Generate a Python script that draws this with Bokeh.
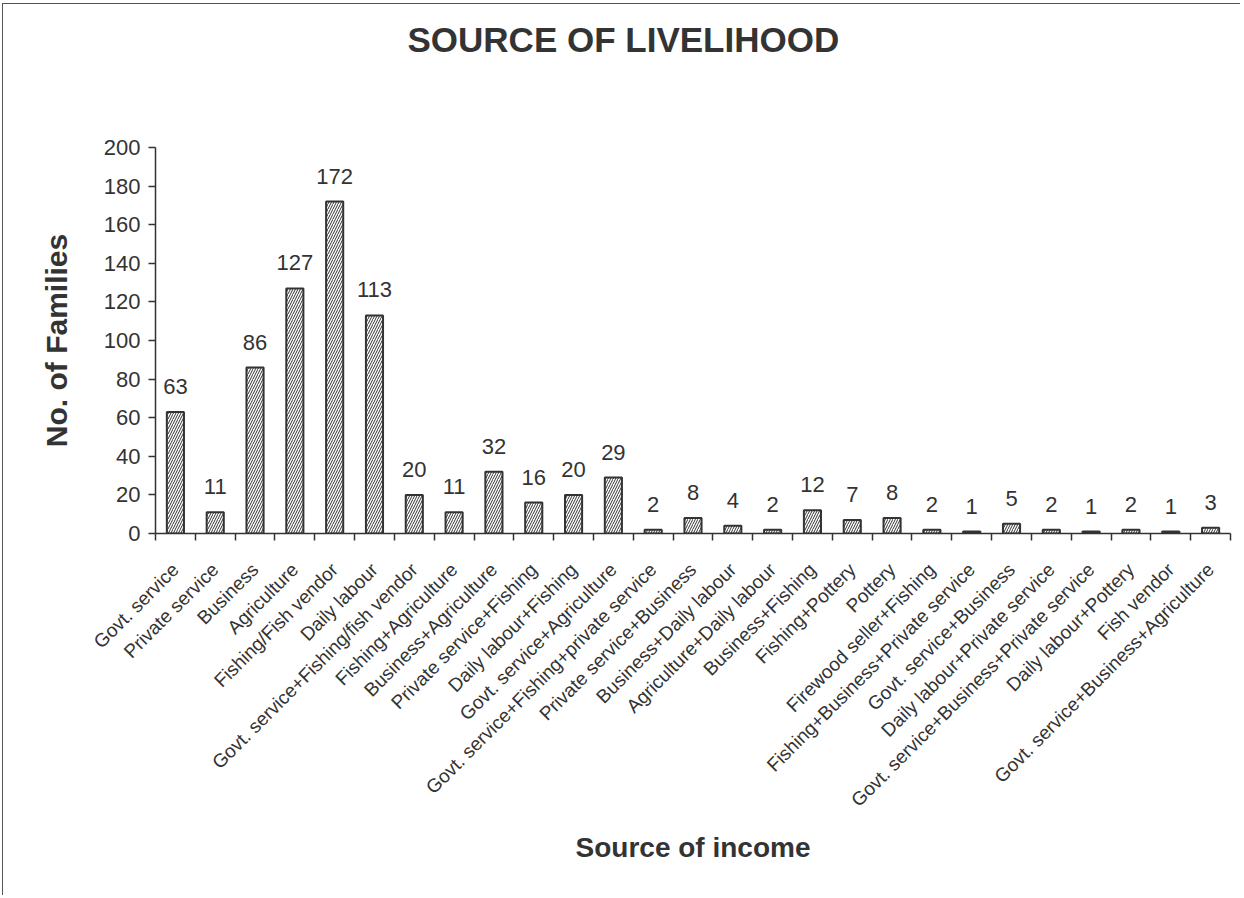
from bokeh.plotting import figure
from bokeh.models import ColumnDataSource, LabelSet, Title, FixedTicker, SingleIntervalTicker, Range1d
from bokeh.core.properties import value
from bokeh.embed import file_html
from bokeh.resources import INLINE

categories = ["Govt. service", "Private service", "Business", "Agriculture",
              "Fishing/Fish vendor", "Daily labour", "Govt. service+Fishing/fish vendor",
              "Fishing+Agriculture", "Business+Agriculture", "Private service+Fishing",
              "Daily labour+Fishing", "Govt. service+Agriculture",
              "Govt. service+Fishing+private service", "Private service+Business",
              "Business+Daily labour", "Agriculture+Daily labour", "Business+Fishing",
              "Fishing+Pottery", "Pottery", "Firewood seller+Fishing",
              "Fishing+Business+Private service", "Govt. service+Business",
              "Daily labour+Private service", "Govt. service+Business+Private service",
              "Daily labour+Pottery", "Fish vendor", "Govt. service+Business+Agriculture"]
values = [63, 11, 86, 127, 172, 113, 20, 11, 32, 16, 20, 29, 2, 8, 4, 2, 12, 7, 8,
          2, 1, 5, 2, 1, 2, 1, 3]
title_text = "SOURCE OF LIVELIHOOD"
x_title = "Source of income"
y_title = "No. of Families"

n = len(categories)
xpos = [i + 0.5 for i in range(n)]
src = ColumnDataSource(dict(x=xpos, top=values, label=[str(v) for v in values], cat=categories))

FONT = "Liberation Sans"
DARK = "#333333"

p = figure(width=1238, height=892, output_backend="svg", toolbar_location=None,
           x_range=Range1d(0, n), y_range=Range1d(0, 200))
p.min_border_left = 152
p.min_border_right = 11
p.min_border_top = 143
p.min_border_bottom = 363
p.outline_line_color = None
p.background_fill_color = "white"
p.border_fill_color = "white"
p.styles = {"border-top": "1px solid #555555", "border-left": "1px solid #555555",
            "margin-top": "3px", "margin-left": "2px"}

p.title.text = title_text
p.title.align = "left"
p.title.offset = 252
p.title.standoff = 10
p.title.vertical_align = "bottom"
p.title.text_font = FONT
p.title.text_font_size = "35px"
p.title.text_font_style = "bold"
p.title.text_color = DARK

# blank spacer panel between the frame and the title (white, so it stays unseen)
spacer = Title(text=" ", text_font=FONT, text_font_size="10px",
               text_color="white", standoff=71)
p.add_layout(spacer, "above")

p.vbar(x="x", top="top", width=0.43, source=src, fill_color="white",
       line_color=DARK, line_width=2, hatch_pattern="/", hatch_color=DARK,
       hatch_scale=5, hatch_weight=1)

labels = LabelSet(x="x", y="top", text="label", source=src, y_offset=18,
                  text_align="center", text_baseline="bottom", text_font=value(FONT),
                  text_font_size="22px", text_color=DARK)
p.add_layout(labels)

p.xgrid.visible = False
p.ygrid.visible = False

xa = p.xaxis[0]
xa.ticker = FixedTicker(ticks=xpos, minor_ticks=list(range(n + 1)))
xa.major_label_overrides = {x: c for x, c in zip(xpos, categories)}
xa.major_label_orientation = 0.785398
xa.major_tick_line_color = None
xa.minor_tick_line_color = DARK
xa.minor_tick_in = 0
xa.minor_tick_out = 7
xa.minor_tick_line_width = 1.5
xa.axis_line_color = DARK
xa.axis_line_width = 1.5
xa.major_label_text_font = FONT
xa.major_label_text_font_size = "19px"
xa.major_label_text_color = DARK
xa.major_label_standoff = 26
xa.axis_label = x_title
xa.axis_label_text_font = FONT
xa.axis_label_text_font_size = "28px"
xa.axis_label_text_font_style = "bold"
xa.axis_label_text_color = DARK
xa.axis_label_standoff = 11

ya = p.yaxis[0]
ya.ticker = SingleIntervalTicker(interval=20, num_minor_ticks=0)
ya.minor_tick_line_color = None
ya.major_tick_in = 0
ya.major_tick_out = 7
ya.major_tick_line_color = DARK
ya.major_tick_line_width = 1.5
ya.axis_line_color = DARK
ya.axis_line_width = 1.5
ya.major_label_text_font = FONT
ya.major_label_text_font_size = "22px"
ya.major_label_text_color = DARK
ya.major_label_standoff = 8
ya.axis_label = y_title
ya.axis_label_text_font = FONT
ya.axis_label_text_font_size = "30px"
ya.axis_label_text_font_style = "bold"
ya.axis_label_text_color = DARK
ya.axis_label_standoff = 28

open("out.html", "w").write(file_html(p, INLINE))
